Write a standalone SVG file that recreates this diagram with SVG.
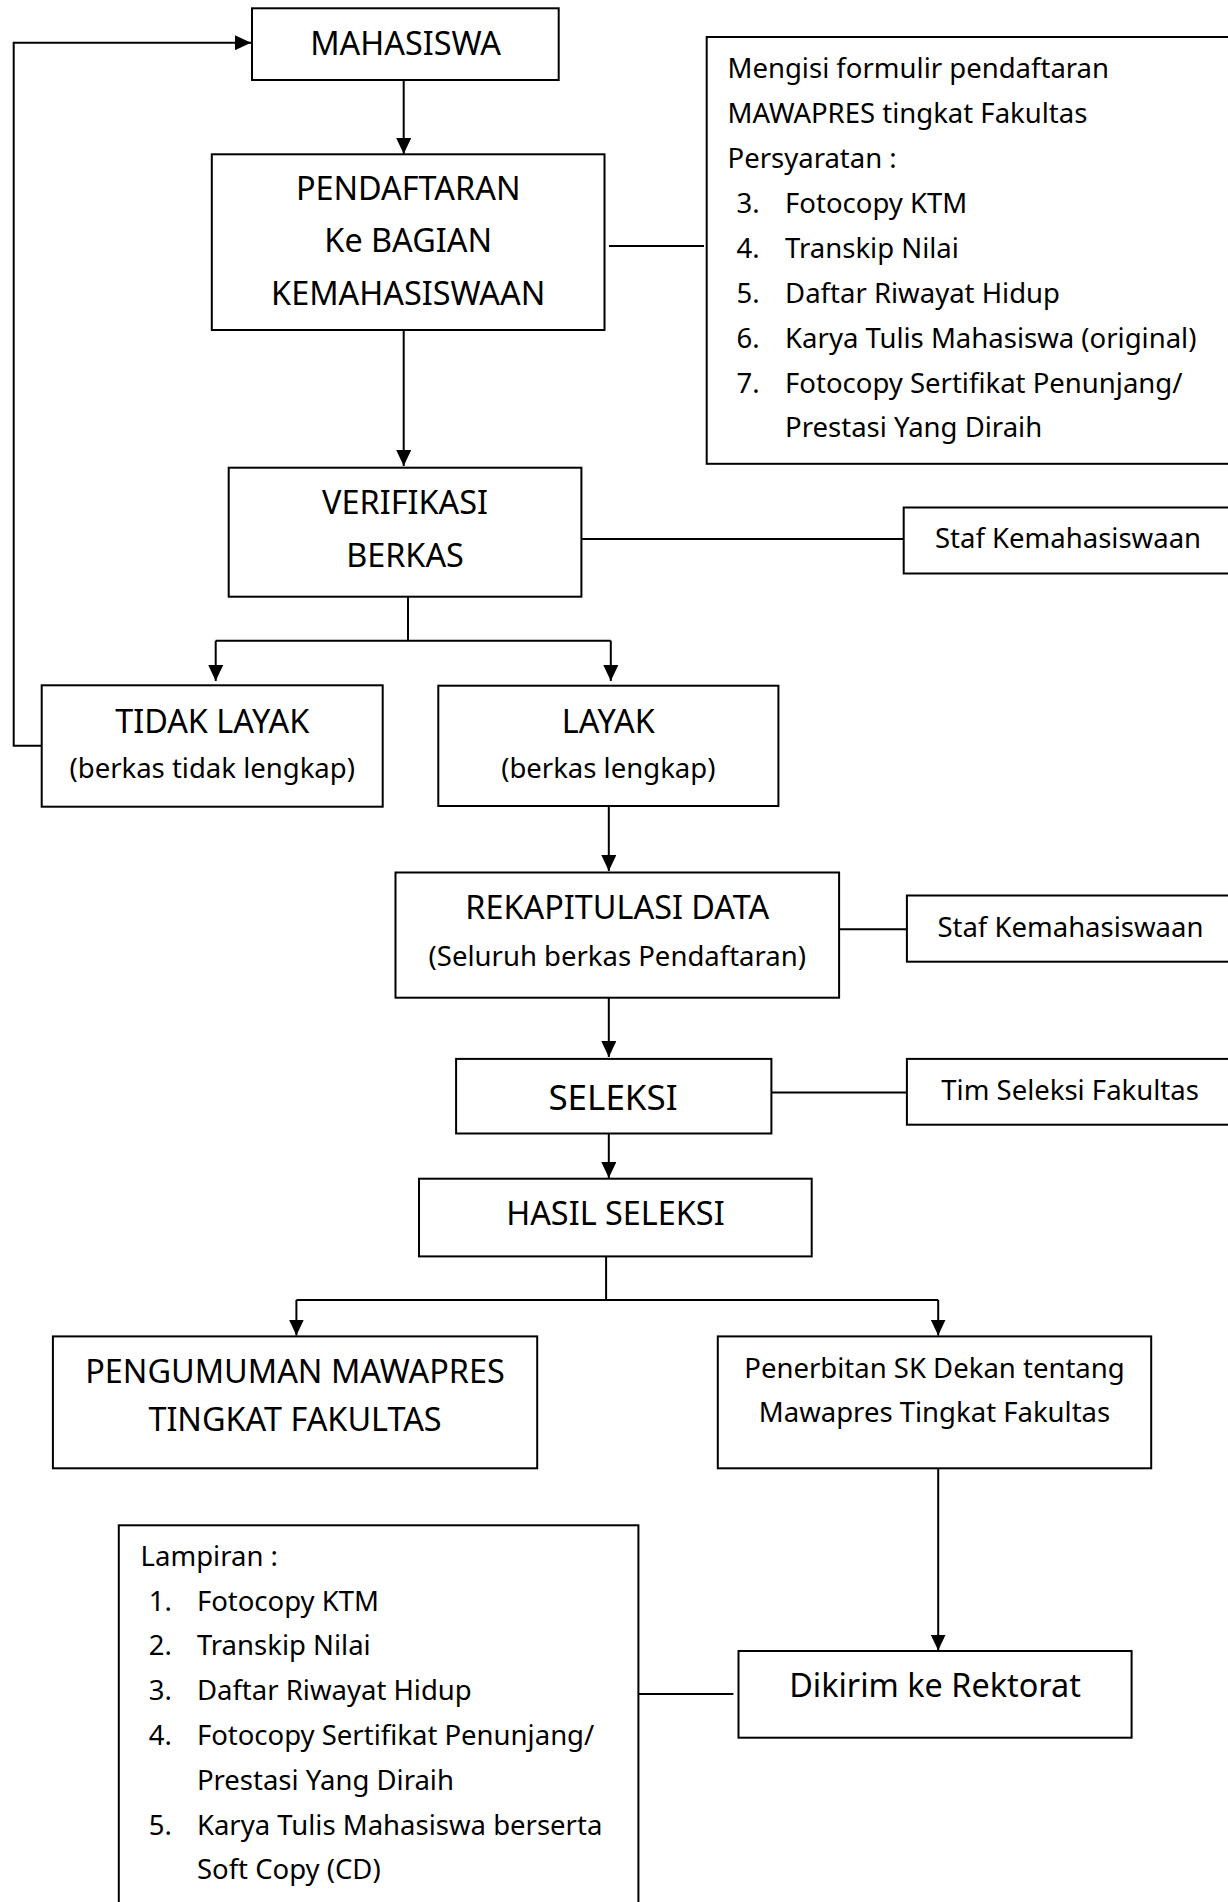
<svg xmlns="http://www.w3.org/2000/svg" width="1228" height="1902" viewBox="0 0 1228 1902">
<defs>
<style>
.box{fill:#fff;stroke:#000;stroke-width:2}
.ln{fill:none;stroke:#000;stroke-width:2}
text{font-family:"Noto Sans","Open Sans",sans-serif;fill:#000}
.t{font-size:32.4px;text-anchor:middle}
.b{font-size:27.5px}
.bc{font-size:27.5px;text-anchor:middle}
.big{font-size:35px;text-anchor:middle}
</style>
<marker id="arr" markerUnits="userSpaceOnUse" markerWidth="16" markerHeight="15" refX="16" refY="7.5" orient="auto">
<path d="M0,0 L16,7.5 L0,15 z" fill="#000"/>
</marker>
</defs>
<rect width="1228" height="1902" fill="#fff"/>

<g id="connectors">
<path class="ln" d="M41.7,745.7 H13.7 V42.7 H251" marker-end="url(#arr)"/>
<path class="ln" d="M403.7,80 V154" marker-end="url(#arr)"/>
<path class="ln" d="M403.7,330 V466" marker-end="url(#arr)"/>
<path class="ln" d="M609,246 H704"/>
<path class="ln" d="M581.4,539 H903.7"/>
<path class="ln" d="M408,593 V640.7 M215.7,640.7 H610.8"/>
<path class="ln" d="M215.7,640.7 V681" marker-end="url(#arr)"/>
<path class="ln" d="M610.8,640.7 V681" marker-end="url(#arr)"/>
<path class="ln" d="M608.8,806 V871" marker-end="url(#arr)"/>
<path class="ln" d="M839.1,929.2 H906.9"/>
<path class="ln" d="M608.8,997.7 V1057" marker-end="url(#arr)"/>
<path class="ln" d="M771.4,1092.6 H906.9"/>
<path class="ln" d="M608.8,1133.5 V1178" marker-end="url(#arr)"/>
<path class="ln" d="M606.1,1256.4 V1300 M296.4,1300 H938.2"/>
<path class="ln" d="M296.4,1300 V1335.5" marker-end="url(#arr)"/>
<path class="ln" d="M938.2,1300 V1335.5" marker-end="url(#arr)"/>
<path class="ln" d="M938.2,1468.3 V1650.5" marker-end="url(#arr)"/>
<path class="ln" d="M638.7,1694 H733.4"/>
</g>

<g id="n-mahasiswa">
<rect class="box" x="252" y="8.3" width="306.7" height="71.7"/>
<text class="t" x="405.6" y="55">MAHASISWA</text>
</g>

<g id="n-pendaftaran">
<rect class="box" x="211.8" y="154.3" width="392.7" height="175.7"/>
<text class="t" x="408.2" y="200">PENDAFTARAN</text>
<text class="t" x="408.2" y="252.3">Ke BAGIAN</text>
<text class="t" x="408.2" y="305">KEMAHASISWAAN</text>
</g>

<g id="n-persyaratan">
<rect class="box" x="706.7" y="37" width="540" height="426.8"/>
<text class="b" x="727.5" y="78.3">Mengisi formulir pendaftaran</text>
<text class="b" x="727.5" y="123.3">MAWAPRES tingkat Fakultas</text>
<text class="b" x="727.5" y="167.7">Persyaratan :</text>
<text class="b" x="736.5" y="212.7">3.</text><text class="b" x="785.1" y="212.7">Fotocopy KTM</text>
<text class="b" x="736.5" y="257.7">4.</text><text class="b" x="785.1" y="257.7">Transkip Nilai</text>
<text class="b" x="736.5" y="302.7">5.</text><text class="b" x="785.1" y="302.7">Daftar Riwayat Hidup</text>
<text class="b" x="736.5" y="347.7">6.</text><text class="b" x="785.1" y="347.7">Karya Tulis Mahasiswa (original)</text>
<text class="b" x="736.5" y="392.7">7.</text><text class="b" x="785.1" y="392.7">Fotocopy Sertifikat Penunjang/</text>
<text class="b" x="785.1" y="436.7">Prestasi Yang Diraih</text>
</g>

<g id="n-verifikasi">
<rect class="box" x="228.7" y="467.7" width="352.7" height="129"/>
<text class="t" x="405" y="514">VERIFIKASI</text>
<text class="t" x="405" y="566.7">BERKAS</text>
</g>

<g id="n-staf1">
<rect class="box" x="903.7" y="507.5" width="340" height="66"/>
<text class="b" x="935" y="548.3">Staf Kemahasiswaan</text>
</g>

<g id="n-tidaklayak">
<rect class="box" x="41.7" y="685.3" width="341" height="121.4"/>
<text class="t" x="212.2" y="732.7">TIDAK LAYAK</text>
<text class="bc" x="212.2" y="778">(berkas tidak lengkap)</text>
</g>

<g id="n-layak">
<rect class="box" x="438.3" y="685.7" width="340.1" height="120.3"/>
<text class="t" x="608.3" y="732.7">LAYAK</text>
<text class="bc" x="608.3" y="778">(berkas lengkap)</text>
</g>

<g id="n-rekap">
<rect class="box" x="395.5" y="872.5" width="443.6" height="125.2"/>
<text class="t" x="617.3" y="918.5">REKAPITULASI DATA</text>
<text class="bc" x="617.3" y="965.5">(Seluruh berkas Pendaftaran)</text>
</g>

<g id="n-staf2">
<rect class="box" x="906.9" y="895.5" width="340" height="66.2"/>
<text class="b" x="937.4" y="936.8">Staf Kemahasiswaan</text>
</g>

<g id="n-seleksi">
<rect class="box" x="456.1" y="1058.9" width="315.3" height="74.6"/>
<text class="big" x="613" y="1109.8">SELEKSI</text>
</g>

<g id="n-tim">
<rect class="box" x="906.9" y="1058.9" width="340" height="65.8"/>
<text class="b" x="941.3" y="1100.2">Tim Seleksi Fakultas</text>
</g>

<g id="n-hasil">
<rect class="box" x="419" y="1178.7" width="392.7" height="77.7"/>
<text class="t" x="615.4" y="1224.6">HASIL SELEKSI</text>
</g>

<g id="n-pengumuman">
<rect class="box" x="52.9" y="1336.4" width="484.3" height="131.9"/>
<text class="t" x="295" y="1383.4">PENGUMUMAN MAWAPRES</text>
<text class="t" x="295" y="1431">TINGKAT FAKULTAS</text>
</g>

<g id="n-penerbitan">
<rect class="box" x="717.8" y="1336.4" width="433.4" height="131.9"/>
<text class="bc" x="934.5" y="1377.7">Penerbitan SK Dekan tentang</text>
<text class="bc" x="934.5" y="1421.7">Mawapres Tingkat Fakultas</text>
</g>

<g id="n-lampiran">
<rect class="box" x="118.8" y="1525.3" width="519.6" height="400"/>
<text class="b" x="140.6" y="1566">Lampiran :</text>
<text class="b" x="148.7" y="1610.7">1.</text><text class="b" x="196.9" y="1610.7">Fotocopy KTM</text>
<text class="b" x="148.7" y="1655">2.</text><text class="b" x="196.9" y="1655">Transkip Nilai</text>
<text class="b" x="148.7" y="1700">3.</text><text class="b" x="196.9" y="1700">Daftar Riwayat Hidup</text>
<text class="b" x="148.7" y="1745">4.</text><text class="b" x="196.9" y="1745">Fotocopy Sertifikat Penunjang/</text>
<text class="b" x="196.9" y="1790">Prestasi Yang Diraih</text>
<text class="b" x="148.7" y="1835">5.</text><text class="b" x="196.9" y="1835">Karya Tulis Mahasiswa berserta</text>
<text class="b" x="196.9" y="1879.3">Soft Copy (CD)</text>
</g>

<g id="n-dikirim">
<rect class="box" x="738.5" y="1651" width="393.1" height="86.7"/>
<text class="t" x="935" y="1696.7">Dikirim ke Rektorat</text>
</g>
</svg>
